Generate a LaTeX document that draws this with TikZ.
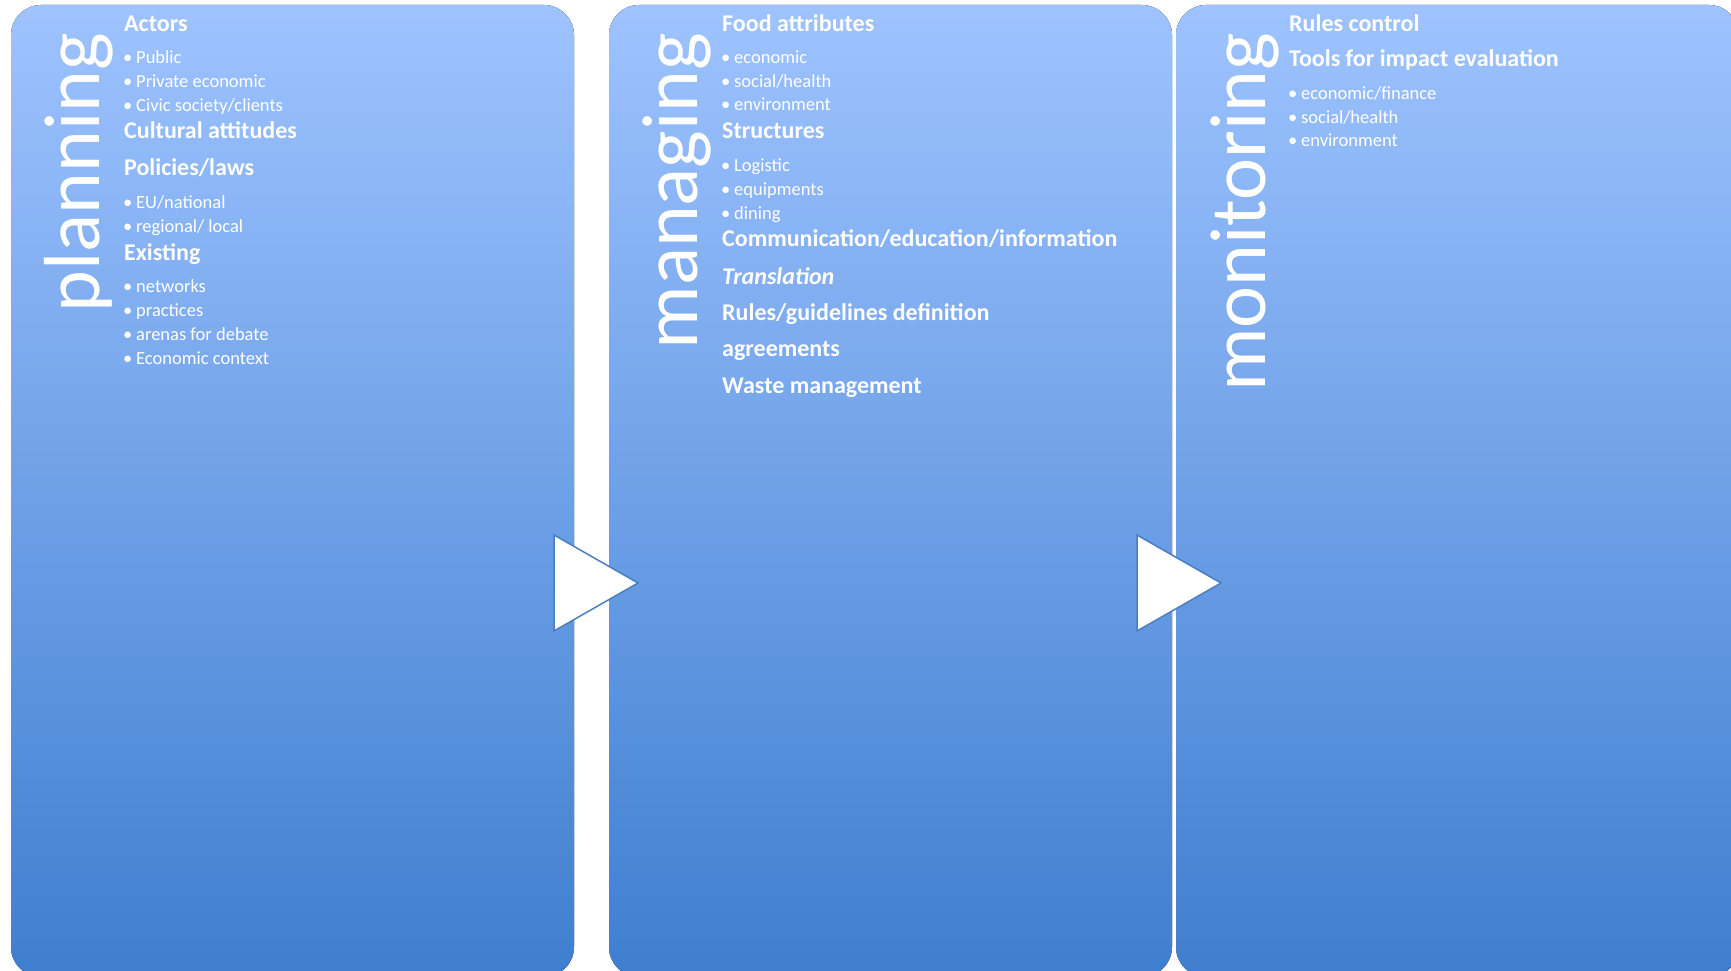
\documentclass[tikz,border=0pt]{standalone}
\usepackage{fontspec}
\setmainfont{Carlito}
\definecolor{paneltop}{HTML}{9EC3FF}
\definecolor{panelbot}{HTML}{3F7ECF}
\definecolor{triedge}{HTML}{4A7EBF}
\newcommand{\bul}{\makebox[13pt][l]{\textbullet}}

\begin{document}
\begin{tikzpicture}[x=1pt,y=-1pt,
   panel/.style={top color=paneltop,bottom color=panelbot,draw=none,rounded corners=30pt},
   arrowtri/.style={fill=white,draw=triedge,line width=1.5pt},
   head/.style={anchor=base west,inner sep=0pt,text=white,font=\fontsize{24}{28}\selectfont\bfseries},
   item/.style={anchor=base west,inner sep=0pt,text=white,font=\fontsize{18.5}{22}\selectfont},
   stage/.style={anchor=base east,inner sep=0pt,rotate=90,text=white,font=\fontsize{79.5}{82}\selectfont}]
   \clip (0,0) rectangle (1731,971);
   \fill[white] (0,0) rectangle (1731,971);
   % the three panels
   \fill[panel] (11,5) rectangle (574,977);
   \fill[panel] (609,5) rectangle (1172,977);
   \fill[panel] (1176,5) rectangle (1739,977);
   % arrows between panels
   \filldraw[arrowtri] (554,535) -- (638,583) -- (554,631) -- cycle;
   \filldraw[arrowtri] (1137,535) -- (1221,583) -- (1137,631) -- cycle;
   % planning
   \node[stage] (planning) at (99,33) {planning};
   \node[head] (actors)   at (124,31.7)  {Actors};
   \node[item] (public)   at (123,63.3)  {\bul Public};
   \node[item] (private)  at (123,87.7)  {\bul Private economic};
   \node[item] (civic)    at (123,111.7) {\bul Civic society/clients};
   \node[head] (cultural) at (124,139)   {Cultural attitudes};
   \node[head] (policies) at (124,175.7) {Policies/laws};
   \node[item] (eu)       at (123,208.3) {\bul EU/national};
   \node[item] (regional) at (123,232.3) {\bul regional/ local};
   \node[head] (existing) at (124,260)   {Existing};
   \node[item] (networks) at (123,292.3) {\bul networks};
   \node[item] (practices) at (123,316)  {\bul practices};
   \node[item] (arenas)   at (123,340)   {\bul arenas for debate};
   \node[item] (context)  at (123,364)   {\bul Economic context};
   % managing
   \node[stage] (managing) at (697,33) {managing};
   \node[head] (food)     at (722,31.7)  {Food attributes};
   \node[item] (econ)     at (721,63.3)  {\bul economic};
   \node[item] (social)   at (721,87.3)  {\bul social/health};
   \node[item] (environ)  at (721,111)   {\bul environment};
   \node[head] (structures) at (722,139) {Structures};
   \node[item] (logistic) at (721,171)   {\bul Logistic};
   \node[item] (equip)    at (721,195)   {\bul equipments};
   \node[item] (dining)   at (721,219)   {\bul dining};
   \node[head] (commu)    at (722,246.7) {Communication/education/information};
   \node[head,font=\fontsize{24}{28}\selectfont\bfseries\itshape] (transl) at (722,284) {Translation};
   \node[head] (rules)    at (722,320.7) {Rules/guidelines definition};
   \node[head] (agree)    at (722,356.5) {agreements};
   \node[head] (waste)    at (722,393.3) {Waste management};
   % monitoring
   \node[stage] (monitoring) at (1265,33) {monitoring};
   \node[head] (control)  at (1289,31.7)  {Rules control};
   \node[head] (tools)    at (1289,66.7)  {Tools for impact evaluation};
   \node[item] (finance)  at (1288,100)   {\bul economic/finance};
   \node[item] (health)   at (1288,123.3) {\bul social/health};
   \node[item] (envmon)   at (1288,146.7) {\bul environment};
\end{tikzpicture}
\end{document}
